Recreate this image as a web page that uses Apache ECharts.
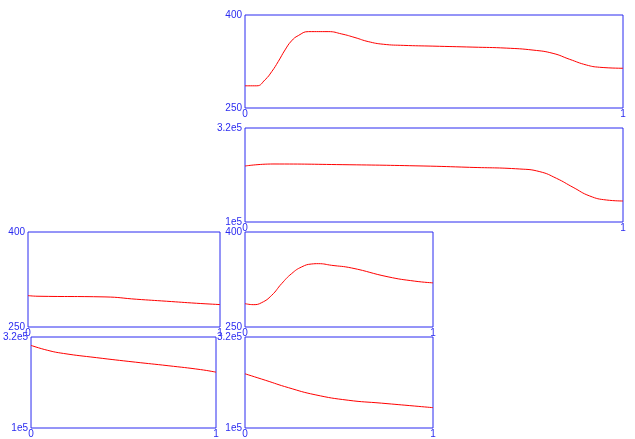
<!DOCTYPE html>
<html>
<head>
<meta charset="utf-8">
<script src="https://cdn.jsdelivr.net/npm/echarts@6/dist/echarts.min.js"></script>
<style>
  html, body { margin: 0; padding: 0; background: #ffffff; }
  #chart { width: 635px; height: 439px; }
</style>
</head>
<body>
<div id="chart"></div>
<script>
// Temperature-like profiles (range 250..400) and pressure-like profiles (1e5..3.2e5)
// over a normalised coordinate 0..1.
const xTickLabels = ['0', '1'];
const tempTickLabels = ['250', '400'];
const pressTickLabels = ['1e5', '3.2e5'];

// Top wide pair
const topTempX = [0, 0.031, 0.053, 0.071, 0.088, 0.106, 0.123, 0.141, 0.168, 0.22, 0.256, 0.291, 0.326, 0.366, 0.42, 0.497, 0.603, 0.691, 0.762, 0.815, 0.859, 0.903, 0.938, 1.0];
const topTempY = [285.8, 285.8, 295.5, 308.9, 325, 343.7, 358.2, 366.8, 373.2, 373.2, 369.4, 363.6, 357.1, 352.8, 351, 349.8, 348.2, 346.6, 343.4, 338.1, 328.5, 319.4, 315.7, 314.1];

const topPressX = [0, 0.074, 0.259, 0.471, 0.594, 0.727, 0.78, 0.824, 0.868, 0.912, 0.956, 1.0];
const topPressY = [231070, 235750, 234190, 231070, 227950, 224050, 217810, 202210, 181140, 160860, 151500, 149160];

// Lower-left pair
const leftTempX = [0, 0.047, 0.401, 0.566, 0.721, 0.877, 1.0];
const leftTempY = [299.6, 298.6, 297.5, 293.8, 290.7, 287.5, 285.4];

const leftPressX = [0, 0.088, 0.176, 0.353, 0.564, 0.741, 0.917, 1.0];
const leftPressY = [299700, 288000, 280200, 270100, 259200, 250600, 241200, 235000];

// Lower-right pair
const rightTempX = [0, 0.044, 0.089, 0.142, 0.195, 0.248, 0.301, 0.355, 0.39, 0.461, 0.567, 0.761, 0.903, 1.0];
const rightTempY = [286.9, 285.3, 288.5, 300, 318.5, 334.3, 344.8, 349.5, 350, 347.4, 343.2, 329.2, 322.4, 319.7];

const rightPressX = [0, 0.108, 0.231, 0.373, 0.549, 0.726, 0.903, 1.0];
const rightPressY = [231070, 215470, 197500, 180360, 167100, 160080, 153060, 149160];

const blue = '#2b2bf0';
const font = 'Arial, "Liberation Sans", sans-serif';

const panels = [
  { grid: { left: 245, top: 15, width: 378, height: 93 },  kind: 'temp',  xs: topTempX,   ys: topTempY },
  { grid: { left: 245, top: 128, width: 378, height: 94 }, kind: 'press', xs: topPressX,  ys: topPressY },
  { grid: { left: 28, top: 232, width: 192, height: 95 },  kind: 'temp',  xs: leftTempX,  ys: leftTempY },
  { grid: { left: 245, top: 232, width: 188, height: 95 }, kind: 'temp',  xs: rightTempX, ys: rightTempY },
  { grid: { left: 27, top: 337, width: 189, height: 94 },  kind: 'press', xs: leftPressX, ys: leftPressY },
  { grid: { left: 245, top: 337, width: 188, height: 94 }, kind: 'press', xs: rightPressX, ys: rightPressY }
];

const grids = [], xAxes = [], yAxes = [], series = [];

panels.forEach((p, i) => {
  grids.push(Object.assign({ show: true, borderColor: blue, borderWidth: 1, backgroundColor: 'transparent' }, p.grid));

  xAxes.push({
    type: 'value', gridIndex: i, min: 0, max: 1, interval: 1,
    axisLine: { show: false }, axisTick: { show: false }, splitLine: { show: false },
    axisLabel: {
      color: blue, fontSize: 10, fontFamily: font, margin: 1,
      formatter: v => (v === 0 ? xTickLabels[0] : v === 1 ? xTickLabels[1] : '')
    }
  });

  const isTemp = p.kind === 'temp';
  const lo = isTemp ? 250 : 100000;
  const hi = isTemp ? 400 : 320000;
  const labels = isTemp ? tempTickLabels : pressTickLabels;
  yAxes.push({
    type: 'value', gridIndex: i, min: lo, max: hi, interval: isTemp ? 50 : 20000,
    axisLine: { show: false }, axisTick: { show: false }, splitLine: { show: false },
    axisLabel: {
      color: blue, fontSize: 10, fontFamily: font, margin: 3,
      formatter: v => (v === lo ? labels[0] : v === hi ? labels[1] : '')
    }
  });

  series.push({
    type: 'line', xAxisIndex: i, yAxisIndex: i,
    data: p.xs.map((x, k) => [x, p.ys[k]]),
    smooth: 0.5, showSymbol: false, symbol: 'none',
    lineStyle: { color: '#ff0000', width: 1 },
    silent: true
  });
});

const chart = echarts.init(document.getElementById('chart'), null, { renderer: 'canvas' });
chart.setOption({
  animation: false,
  backgroundColor: '#ffffff',
  grid: grids,
  xAxis: xAxes,
  yAxis: yAxes,
  series: series
});
</script>
</body>
</html>
